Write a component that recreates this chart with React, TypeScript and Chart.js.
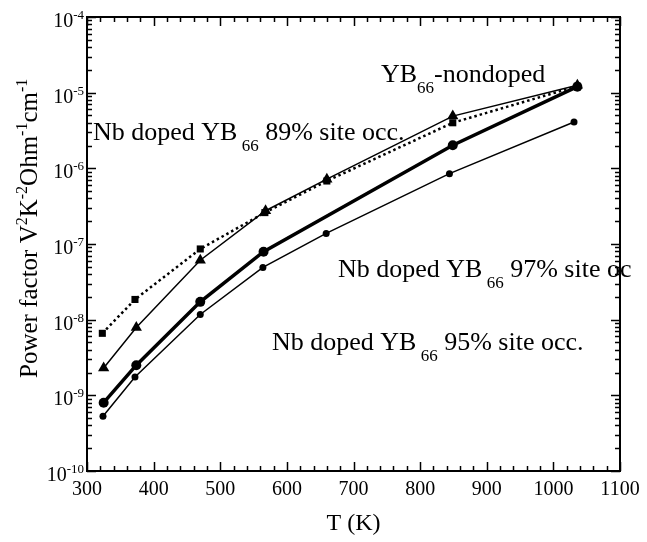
import React, { useEffect, useRef } from "react";
import { Chart, registerables } from "chart.js";
Chart.register(...registerables);

// ---- data ----
const tempsSquare = [323, 372, 470, 567, 660, 849, 1036];
const pfSquare = [6.6e-9, 1.85e-8, 8.6e-8, 2.6e-7, 6.8e-7, 4.0e-6, 1.22e-5];

const tempsTriangle = [325, 374, 470, 568, 660, 849, 1036];
const pfTriangle = [2.3e-9, 7.9e-9, 6.1e-8, 2.75e-7, 7.2e-7, 4.9e-6, 1.25e-5];

const tempsThick = [325, 374, 470, 565, 849, 1036];
const pfThick = [8.0e-10, 2.5e-9, 1.72e-8, 7.9e-8, 2.02e-6, 1.2e-5];

const tempsThin = [324, 372, 470, 564, 659, 844, 1031];
const pfThin = [5.3e-10, 1.75e-9, 1.17e-8, 4.9e-8, 1.38e-7, 8.5e-7, 4.1e-6];

const xTicks = [300, 400, 500, 600, 700, 800, 900, 1000, 1100];
const yTickExps = [-10, -9, -8, -7, -6, -5, -4];

const FONT = '"Liberation Serif", "Times New Roman", serif';

type Part = { t: string; s?: "sub" | "sup" };

function drawRich(ctx: CanvasRenderingContext2D, x: number, y: number, parts: Part[], size: number, small: number) {
  let cx = x;
  for (const p of parts) {
    const s = p.s ? small : size;
    ctx.font = `${s}px ${FONT}`;
    const dy = p.s === "sub" ? size * 0.44 : p.s === "sup" ? -size * 0.4 : 0;
    ctx.fillText(p.t, cx, y + dy);
    cx += ctx.measureText(p.t).width;
  }
  return cx - x;
}

function measureRich(ctx: CanvasRenderingContext2D, parts: Part[], size: number, small: number) {
  let w = 0;
  for (const p of parts) {
    ctx.font = `${p.s ? small : size}px ${FONT}`;
    w += ctx.measureText(p.t).width;
  }
  return w;
}

const decorPlugin = {
  id: "decor",
  afterDraw(chart: any) {
    const ctx: CanvasRenderingContext2D = chart.ctx;
    const xs = chart.scales.x;
    const ys = chart.scales.y;
    const { left, right, top, bottom } = chart.chartArea;
    ctx.save();
    ctx.fillStyle = "#000";
    ctx.strokeStyle = "#000";

    // frame
    ctx.lineWidth = 2;
    ctx.strokeRect(left, top, right - left, bottom - top);

    // ticks
    ctx.lineWidth = 1.5;
    ctx.beginPath();
    const major = 9, minor = 5;
    for (let v = xTicks[0]; v <= xTicks[xTicks.length - 1]; v += 20) {
      const px = Math.round(xs.getPixelForValue(v)) + 0.5;
      const len = v % 100 === 0 ? major : minor;
      ctx.moveTo(px, bottom); ctx.lineTo(px, bottom - len);
      ctx.moveTo(px, top); ctx.lineTo(px, top + len);
    }
    for (let e = yTickExps[0]; e <= yTickExps[yTickExps.length - 1]; e++) {
      const py = Math.round(ys.getPixelForValue(Math.pow(10, e))) + 0.5;
      ctx.moveTo(left, py); ctx.lineTo(left + major, py);
      ctx.moveTo(right, py); ctx.lineTo(right - major, py);
      if (e < yTickExps[yTickExps.length - 1]) {
        for (let m = 2; m <= 9; m++) {
          const pm = Math.round(ys.getPixelForValue(m * Math.pow(10, e))) + 0.5;
          ctx.moveTo(left, pm); ctx.lineTo(left + minor, pm);
          ctx.moveTo(right, pm); ctx.lineTo(right - minor, pm);
        }
      }
    }
    ctx.stroke();

    // x tick labels
    ctx.font = `20px ${FONT}`;
    ctx.textAlign = "center";
    ctx.textBaseline = "alphabetic";
    for (const v of xTicks) {
      ctx.fillText(String(v), xs.getPixelForValue(v), bottom + 24);
    }
    ctx.textAlign = "left";

    // y tick labels
    for (const e of yTickExps) {
      const py = ys.getPixelForValue(Math.pow(10, e));
      const parts: Part[] = [{ t: "10" }, { t: String(e), s: "sup" }];
      const w = measureRich(ctx, parts, 20, 13);
      drawRich(ctx, left - 3 - w, py + 10, parts, 20, 13);
    }

    // x title
    ctx.font = `24px ${FONT}`;
    ctx.textAlign = "center";
    ctx.fillText("T (K)", (left + right) / 2, 530);
    ctx.textAlign = "left";

    // y title
    ctx.save();
    ctx.translate(37, 378);
    ctx.rotate(-Math.PI / 2);
    drawRich(ctx, 0, 0, [
      { t: "Power factor V" }, { t: "2", s: "sup" },
      { t: "K" }, { t: "-2", s: "sup" },
      { t: "Ohm" }, { t: "-1", s: "sup" },
      { t: "cm" }, { t: "-1", s: "sup" },
    ], 25, 16);
    ctx.restore();

    // annotations
    drawRich(ctx, 381, 82, [{ t: "YB" }, { t: "66", s: "sub" }, { t: "-nondoped" }], 26, 17);
    drawRich(ctx, 93, 140, [{ t: "Nb doped YB" }, { t: " 66", s: "sub" }, { t: " 89% site occ." }], 26, 17);
    drawRich(ctx, 338, 277, [{ t: "Nb doped YB" }, { t: " 66", s: "sub" }, { t: " 97% site oc" }], 26, 17);
    drawRich(ctx, 272, 350, [{ t: "Nb doped YB" }, { t: " 66", s: "sub" }, { t: " 95% site occ." }], 26, 17);

    ctx.restore();
  },
};

function pts(xs: number[], ys: number[]) {
  return xs.map((x, i) => ({ x, y: ys[i] }));
}

export default function App() {
  const ref = useRef<HTMLCanvasElement>(null);
  useEffect(() => {
    if (!ref.current) return;
    const chart = new Chart(ref.current, {
      type: "scatter",
      data: {
        datasets: [
          {
            data: pts(tempsSquare, pfSquare),
            showLine: true,
            borderColor: "#000",
            backgroundColor: "#000",
            borderWidth: 2.5,
            borderDash: [2.5, 3],
            pointStyle: "rect",
            pointRadius: 5,
            pointBorderWidth: 0,
          },
          {
            data: pts(tempsTriangle, pfTriangle),
            showLine: true,
            borderColor: "#000",
            backgroundColor: "#000",
            borderWidth: 1.5,
            pointStyle: "triangle",
            pointRadius: 6.5,
            pointBorderWidth: 0,
          },
          {
            data: pts(tempsThick, pfThick),
            showLine: true,
            borderColor: "#000",
            backgroundColor: "#000",
            borderWidth: 3.5,
            pointStyle: "circle",
            pointRadius: 5,
            pointBorderWidth: 0,
          },
          {
            data: pts(tempsThin, pfThin),
            showLine: true,
            borderColor: "#000",
            backgroundColor: "#000",
            borderWidth: 1.5,
            pointStyle: "circle",
            pointRadius: 3.5,
            pointBorderWidth: 0,
          },
        ],
      },
      options: {
        responsive: false,
        animation: false,
        events: [],
        layout: { padding: { left: 87, top: 17, right: 27, bottom: 71 } },
        plugins: { legend: { display: false }, tooltip: { enabled: false }, title: { display: false } },
        scales: {
          x: {
            type: "linear",
            min: 300,
            max: 1100,
            ticks: { display: false },
            grid: { display: false, drawTicks: false },
            border: { display: false },
          },
          y: {
            type: "logarithmic",
            min: 1e-10,
            max: 1e-4,
            ticks: { display: false },
            grid: { display: false, drawTicks: false },
            border: { display: false },
          },
        },
      },
      plugins: [decorPlugin],
    });
    return () => chart.destroy();
  }, []);
  return (
    <div style={{ position: "fixed", left: 0, top: 0, width: 647, height: 542, background: "#fff" }}>
      <canvas ref={ref} width={647} height={542} />
    </div>
  );
}
